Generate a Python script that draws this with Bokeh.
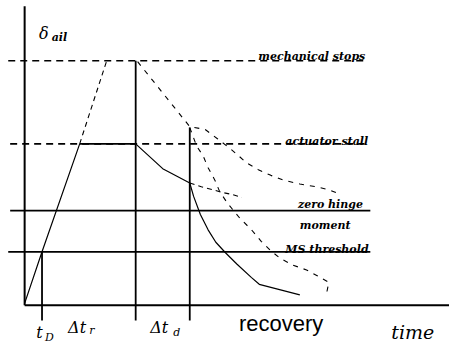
from bokeh.plotting import figure
from bokeh.models import Range1d
from bokeh.embed import file_html
from bokeh.resources import INLINE
from bokeh.core.properties import value

# ---- data (time units from the deflection axis, deflection units above the baseline) ----
level_names = ["mechanical stops", "actuator stall", "zero hinge moment", "MS threshold"]
level_values = [256, 169, 99, 56]

t_D = 18          # detection time
t_r_end = 115     # end of reaction interval Δt_r
t_d_end = 171     # end of decision interval Δt_d

# runaway ramp (solid up to actuator stall, dashed up to mechanical stops)
ramp_t = [0, 18, 57]
ramp_d = [2, 56, 169]
ramp_ext_t = [57, 85]
ramp_ext_d = [169, 256]

# held at actuator stall until t_r_end
stall_t = [57, 115]
stall_d = [169, 169]

# solid decay during Δt_d and recovery
decay_t = [115, 143, 171]
decay_d = [169, 143, 128]
recov_t = [171, 175, 182, 190, 198, 208, 220, 235, 243, 262, 285]
recov_d = [128, 114, 95, 79, 66, 55, 43, 29, 22, 17, 11]

# dashed alternatives
alt_mech_t = [117, 171, 187, 200, 213, 230, 242, 255, 268, 285, 302, 315, 327]
alt_mech_d = [255, 187, 184, 174, 164, 149, 142, 136, 131, 127, 124, 121, 116]
alt_steep_t = [171, 178, 185, 190, 197, 202, 210, 223, 235, 245, 255, 265, 278, 292, 303, 315, 313]
alt_steep_d = [186, 167, 156, 144, 131, 119, 107, 91, 79, 67, 57, 49, 42, 37, 31, 24, 14]
alt_hold_t = [171, 183, 195, 205, 215, 225]
alt_hold_d = [128, 124, 121, 118, 116, 113]

# ---- figure ----
p = figure(width=449, height=344, x_range=Range1d(-25, 440), y_range=Range1d(-41, 319),
           x_axis_type=None, y_axis_type=None, output_backend="svg",
           toolbar_location=None, min_border=0)
p.outline_line_color = None
p.background_fill_color = "white"
p.border_fill_color = "white"

K = "black"
# axes
p.line([0, 0], [0, 313], line_color=K, line_width=2)
p.line([0, 440], [0, 0], line_color=K, line_width=2)

# level lines
mech, stall, zhm, ms = level_values
p.line([-17, 352], [mech, mech], line_color=K, line_width=1.6, line_dash="7 5")
p.line([-15, 352], [stall, stall], line_color=K, line_width=1.6, line_dash="7 5")
p.line([-15, 358], [zhm, zhm], line_color=K, line_width=1.8)
p.line([-17, 358], [ms, ms], line_color=K, line_width=1.8)

# time markers
p.segment(x0=[t_D, t_r_end, t_d_end], y0=[ms, mech, 186],
          x1=[t_D, t_r_end, t_d_end], y1=[-16, -16, -16], line_color=K, line_width=1.8)

# solid trajectory
p.line(ramp_t, ramp_d, line_color=K, line_width=1.2)
p.line(stall_t, stall_d, line_color=K, line_width=1.8)
p.line(decay_t, decay_d, line_color=K, line_width=1.2)
p.line(recov_t, recov_d, line_color=K, line_width=1.2)

# dashed alternatives
p.line(ramp_ext_t, ramp_ext_d, line_color=K, line_width=1.1, line_dash="5 4")
p.line(alt_mech_t, alt_mech_d, line_color=K, line_width=1.1, line_dash="5 6")
p.line(alt_steep_t, alt_steep_d, line_color=K, line_width=1.1, line_dash="5 6")
p.line(alt_hold_t, alt_hold_d, line_color=K, line_width=1.1, line_dash="5 4")

# ---- texts ----
serif = value("DejaVu Serif")
p.text(x=[242, 270, 283, 285, 270], y=[260, 171, 105, 84, 58],
       text=["mechanical stops", "actuator stall", "zero hinge", "moment", "MS threshold"],
       text_font=serif, text_font_style="bold italic", text_font_size="11px",
       text_color=K, text_baseline="alphabetic", text_align="left")

# delta_ail
p.text(x=[15], y=[284], text=["δ"], text_font=serif, text_font_style="italic",
       text_font_size="16px", text_color=K, text_baseline="alphabetic")
p.text(x=[28], y=[280], text=["ail"], text_font=serif, text_font_style="bold italic",
       text_font_size="11px", text_color=K, text_baseline="alphabetic")

# time interval labels
p.text(x=[12, 45, 130], y=[-28, -23, -23], text=["t", "Δt", "Δt"], text_font=serif,
       text_font_style="italic", text_font_size="16px", text_color=K,
       text_baseline="alphabetic")
p.text(x=[21, 67, 154], y=[-34, -26, -28], text=["D", "r", "d"], text_font=serif,
       text_font_style="italic", text_font_size="11px", text_color=K,
       text_baseline="alphabetic")

p.text(x=[222], y=[-19], text=["recovery"], text_font=value("Liberation Sans"),
       text_font_size="22px", text_color=K, text_baseline="alphabetic")
p.text(x=[402], y=[-28], text=["time"], text_font=serif, text_font_style="italic",
       text_font_size="19px", text_color=K, text_baseline="alphabetic", text_align="center")

open("out.html", "w").write(file_html(p, INLINE))
